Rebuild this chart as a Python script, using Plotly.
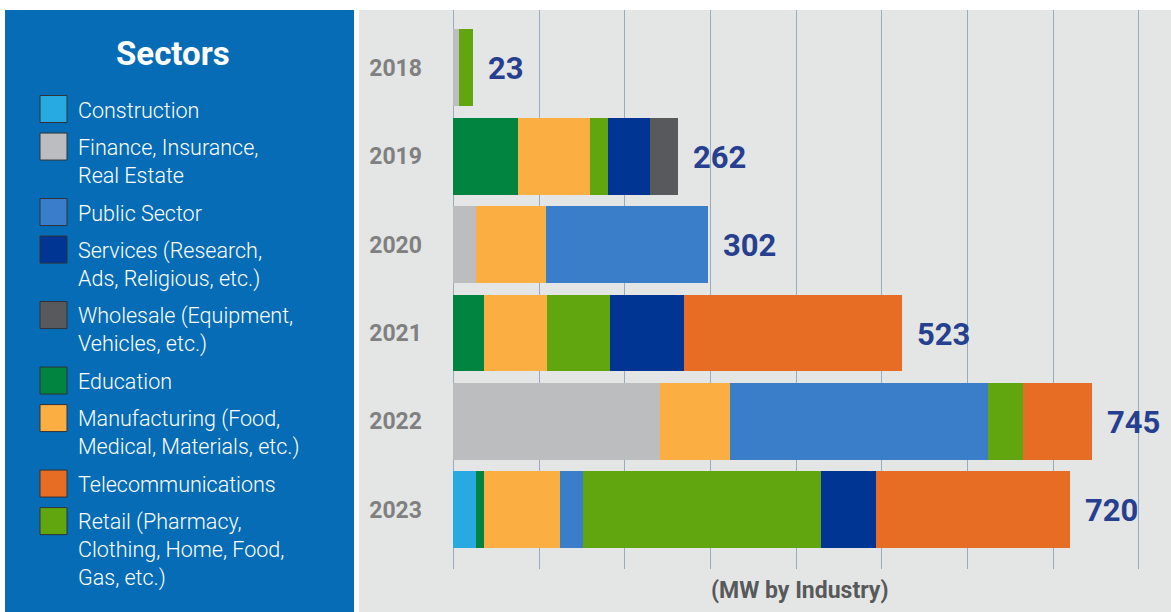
import plotly.graph_objects as go

# ---------------- data ----------------
years = ["2018", "2019", "2020", "2021", "2022", "2023"]
totals = [23, 262, 302, 523, 745, 720]

construction = [0, 0, 0, 0, 0, 27]
finance = [7, 0, 27, 0, 241, 0]
education = [0, 76, 0, 36, 0, 9]
manufacturing = [0, 83, 81, 73, 82, 89]
public_sector = [0, 0, 189, 0, 301, 26]
retail = [16, 21, 0, 74, 41, 278]
services = [0, 50, 0, 86, 0, 64]
wholesale = [0, 32, 0, 0, 0, 0]
telecom = [0, 0, 0, 254, 80, 227]

# stacking order (left to right inside each bar)
stack_keys = ["Construction", "Finance", "Education", "Manufacturing", "Public",
              "Retail", "Services", "Wholesale", "Telecom"]
# legend order (top to bottom in the side panel)
legend_keys = ["Construction", "Finance", "Public", "Services", "Wholesale",
               "Education", "Manufacturing", "Telecom", "Retail"]
legend_labels = {
    "Construction": ["Construction"],
    "Finance": ["Finance, Insurance,", "Real Estate"],
    "Public": ["Public Sector"],
    "Services": ["Services (Research,", "Ads, Religious, etc.)"],
    "Wholesale": ["Wholesale (Equipment,", "Vehicles, etc.)"],
    "Education": ["Education"],
    "Manufacturing": ["Manufacturing (Food,", "Medical, Materials, etc.)"],
    "Telecom": ["Telecommunications"],
    "Retail": ["Retail (Pharmacy,", "Clothing, Home, Food,", "Gas, etc.)"],
}
series = {
    "Construction": construction, "Finance": finance, "Education": education,
    "Manufacturing": manufacturing, "Public": public_sector, "Retail": retail,
    "Services": services, "Wholesale": wholesale, "Telecom": telecom,
}
colors = {
    "Construction": "#27a9e1", "Finance": "#bcbdbf", "Public": "#3a7dc9",
    "Services": "#003594", "Wholesale": "#58595b", "Education": "#00843f",
    "Manufacturing": "#fbae42", "Telecom": "#e86d24", "Retail": "#61a60f",
}

W, H = 1171, 612
FONT = "Roboto, 'Open Sans', sans-serif"

def px(x):
    return x / W

def py(y):
    return 1 - y / H

fig = go.Figure()
for k in stack_keys:
    fig.add_trace(go.Bar(
        y=years, x=series[k], orientation="h", name=" ".join(legend_labels[k]),
        marker=dict(color=colors[k], line=dict(width=0)),
        width=0.87, showlegend=False,
    ))

# total labels at the end of each bar (category index used for y)
sums = [sum(series[k][i] for k in stack_keys) for i in range(len(years))]
annotations = []
for i, (s, t) in enumerate(zip(sums, totals)):
    annotations.append(dict(
        x=s, y=i, xref="x", yref="y", text=f"<b>{t}</b>", showarrow=False,
        xanchor="left", yanchor="middle", xshift=13, yshift=-1,
        font=dict(family=FONT, size=31, color="#263f8f"),
    ))

# side panel title
annotations.append(dict(
    x=px(173), y=py(53), xref="paper", yref="paper", text="<b>Sectors</b>",
    showarrow=False, xanchor="center", yanchor="middle",
    font=dict(family=FONT, size=33, color="white"),
))
# axis caption
annotations.append(dict(
    x=px(799), y=py(590), xref="paper", yref="paper", text="<b>(MW by Industry)</b>",
    showarrow=False, xanchor="center", yanchor="middle",
    font=dict(family=FONT, size=23, color="#58595b"),
))

shapes = [
    dict(type="rect", xref="paper", yref="paper", x0=px(5), x1=px(354),
         y0=0, y1=py(10), fillcolor="#066cb5", line=dict(width=0), layer="below"),
    dict(type="rect", xref="paper", yref="paper", x0=px(359), x1=1,
         y0=0, y1=py(10), fillcolor="#e4e6e5", line=dict(width=0), layer="below"),
]

# custom legend in the side panel
LEG_FS = 21.5
LINE = LEG_FS * 1.3
total_lines = sum(len(legend_labels[k]) for k in legend_keys)
first_c, last_c = 109, 577
GAP = ((last_c - first_c) - (total_lines - 1) * LINE) / (len(legend_keys) - 1)
c = first_c
for k in legend_keys:
    lines = legend_labels[k]
    n = len(lines)
    shapes.append(dict(
        type="rect", xref="paper", yref="paper", x0=px(40), x1=px(67),
        y0=py(c + 13.5), y1=py(c - 13.5), fillcolor=colors[k],
        line=dict(color="#2f3336", width=1), layer="above",
    ))
    annotations.append(dict(
        x=px(76), y=py(c + 1 + (n - 1) * LINE / 2), xref="paper", yref="paper",
        text="<br>".join(lines), align="left",
        showarrow=False, xanchor="left", yanchor="middle",
        font=dict(family=FONT, size=LEG_FS, color="white", weight=300),
    ))
    c += n * LINE + GAP

x0_px, per = 453.3, 0.857
x_lo, x_hi = -5, 830
fig.update_layout(
    width=W, height=H,
    margin=dict(l=0, r=0, t=0, b=0),
    paper_bgcolor="white", plot_bgcolor="rgba(0,0,0,0)",
    barmode="stack", bargap=0.13,
    showlegend=False,
    shapes=shapes, annotations=annotations,
    xaxis=dict(
        range=[x_lo, x_hi],
        domain=[px(x0_px + x_lo * per), px(x0_px + x_hi * per)],
        tick0=0, dtick=100, showgrid=True, gridcolor="#9aaabf", gridwidth=1,
        zeroline=False, showticklabels=False, ticks="", showline=False,
    ),
    yaxis=dict(
        type="category",
        categoryorder="array", categoryarray=years,
        range=[5.67, -0.655],
        domain=[py(569), py(10)],
        showgrid=False, zeroline=False, showline=False, ticks="",
        ticklabelstandoff=26,
        tickfont=dict(family=FONT, size=23, color="#808080", weight="bold"),
    ),
)

fig.write_html("out.html")
